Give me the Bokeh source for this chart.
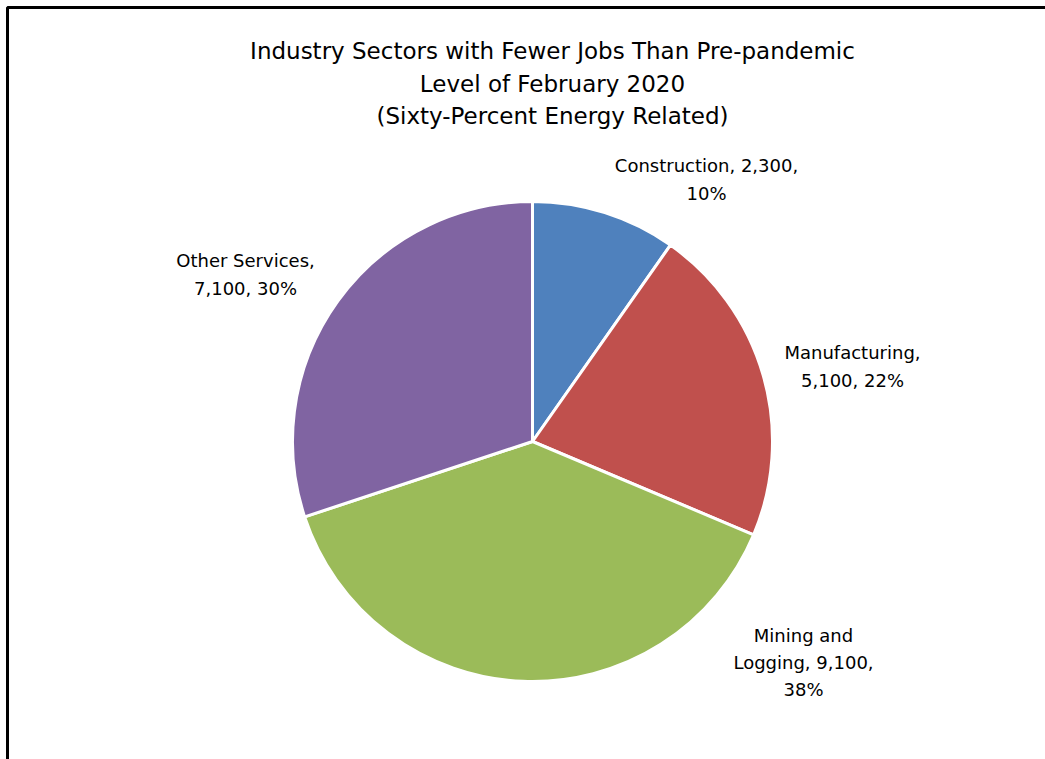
import numpy as np
from bokeh.plotting import figure
from bokeh.models import Range1d, ColumnDataSource
from bokeh.core.properties import value
from bokeh.embed import file_html
from bokeh.resources import INLINE

# ---- data ----
sectors = ["Construction", "Manufacturing", "Mining and\nLogging", "Other Services"]
jobs = [2300, 5100, 9100, 7100]
percents = [10, 22, 38, 30]
colors = ["#4F81BD", "#C0504D", "#9BBB59", "#8064A2"]
title_lines = ["Industry Sectors with Fewer Jobs Than Pre-pandemic",
               "Level of February 2020",
               "(Sixty-Percent Energy Related)"]

W, H = 1045, 759
FONT = "DejaVu Sans"

p = figure(width=W, height=H, x_range=Range1d(0, W), y_range=Range1d(0, H),
           min_border=0, toolbar_location=None, output_backend="svg")
p.axis.visible = False
p.grid.visible = False
p.outline_line_color = None
p.background_fill_color = "white"

# pie geometry (pixel layout)
cx, cy, r = 532, H - 441, 240
vals = np.array(jobs, dtype=float)
frac = vals / vals.sum()
cum = np.concatenate([[0], np.cumsum(frac)])
start = np.pi / 2 - cum[1:] * 2 * np.pi
end = np.pi / 2 - cum[:-1] * 2 * np.pi

src = ColumnDataSource(dict(start=start, end=end, color=colors))
p.wedge(x=cx, y=cy, radius=r, start_angle="start", end_angle="end",
        direction="anticlock", fill_color="color", line_color="white",
        line_width=3, source=src)

# labels
label_text = [
    f"{sectors[0]}, {jobs[0]:,},\n{percents[0]}%",
    f"{sectors[1]},\n{jobs[1]:,}, {percents[1]}%",
    f"Mining and\nLogging, {jobs[2]:,},\n{percents[2]}%",
    f"{sectors[3]},\n{jobs[3]:,}, {percents[3]}%",
]
label_pos = [(706, 179), (852, 366), (803, 662), (245, 274)]
lsrc = ColumnDataSource(dict(x=[q[0] for q in label_pos],
                             y=[H - q[1] for q in label_pos],
                             t=label_text))
p.text(x="x", y="y", text="t", source=lsrc, text_align="center",
       text_baseline="middle", text_font=value(FONT), text_font_size="18px",
       text_color="black", text_line_height=1.3)

# title
tsrc = ColumnDataSource(dict(x=[552] * 3, y=[H - 50, H - 83, H - 115], t=title_lines))
p.text(x="x", y="y", text="t", source=tsrc, text_align="center",
       text_baseline="middle", text_font=value(FONT), text_font_size="23px",
       text_color="black")

# chart frame border (cropped at right/bottom)
p.line(x=[7, 7, W], y=[0, H - 7, H - 7], line_color="black", line_width=3)

open("out.html", "w").write(file_html(p, INLINE))
